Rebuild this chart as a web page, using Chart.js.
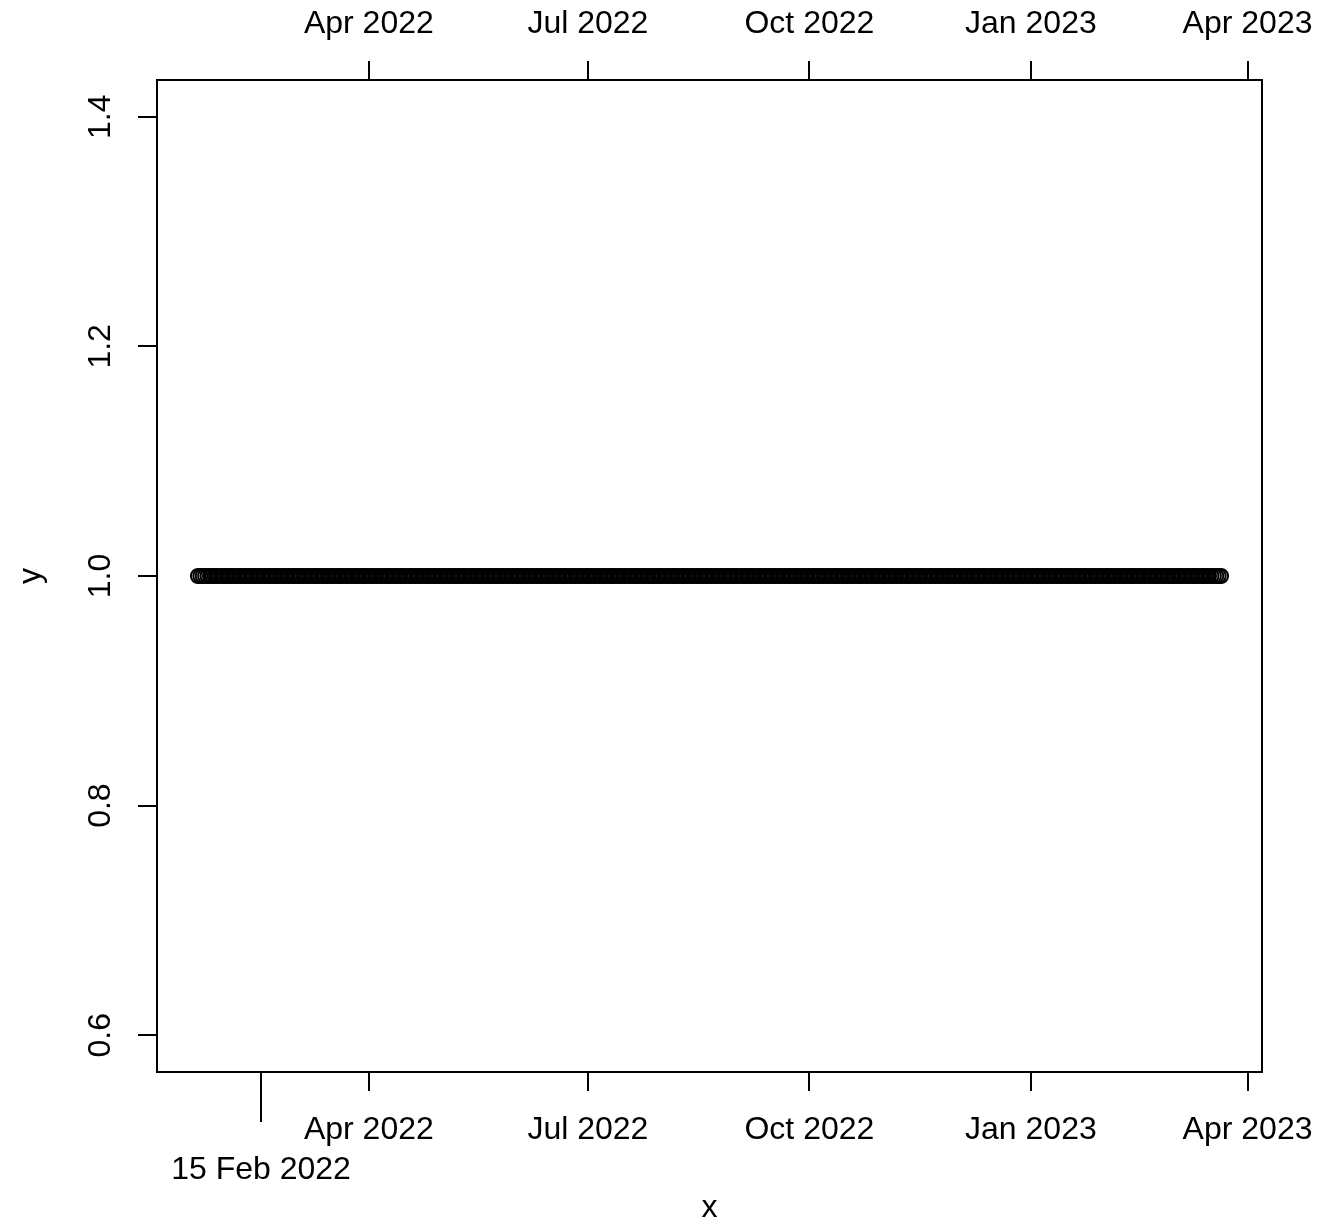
<!DOCTYPE html>
<html>
<head>
<meta charset="utf-8">
<title>y vs x</title>
<script src="https://cdn.jsdelivr.net/npm/chart.js@4.4.1/dist/chart.umd.min.js"></script>
<style>
  html, body { margin: 0; padding: 0; background: #ffffff; }
  #wrap { width: 1322px; height: 1225px; }
</style>
</head>
<body>
<div id="wrap"><canvas id="plot" width="1322" height="1225"></canvas></div>
<script>
// data: one point per day, all at y = 1
const startDate = "2022-01-20";
const endDate = "2023-03-21";
const yValue = 1;

const tickDates = ["2022-04-01", "2022-07-01", "2022-10-01", "2023-01-01", "2023-04-01"];
const tickLabels = ["Apr 2022", "Jul 2022", "Oct 2022", "Jan 2023", "Apr 2023"];
const extraTickDate = "2022-02-15";
const extraTickLabel = "15 Feb 2022";
const yTicks = [0.6, 0.8, 1.0, 1.2, 1.4];

const FONT = "'Liberation Sans', Arial, Helvetica, sans-serif";
const FONT_SIZE = 32;

// days since epoch, so a plain linear scale can be used
const day = function(s) {
    return Date.UTC(+s.slice(0, 4), +s.slice(5, 7) - 1, +s.slice(8, 10)) / 86400000;
};

const points = [];
for (let d = day(startDate); d <= day(endDate); d++) {
    points.push({x: d, y: yValue});
}

// R style 4% extension of the ranges
const xSpan = day(endDate) - day(startDate);
const xMin = day(startDate) - 0.04 * xSpan;
const xMax = day(endDate) + 0.04 * xSpan;
const yMin = 0.6 - 0.04 * 0.8;
const yMax = 1.4 + 0.04 * 0.8;

const xAxis = function(pos, h, pad) {
    return {
        type: "linear",
        position: pos,
        min: xMin,
        max: xMax,
        afterBuildTicks: function(scale) {
            scale.ticks = tickDates.map(d => ({value: day(d)}));
        },
        afterFit: function(scale) {
            scale.height = h;
            // labels may hang over the right edge, like R lets them
            scale.paddingLeft = 0;
            scale.paddingRight = 0;
        },
        grid: {drawOnChartArea: false, drawTicks: true, tickLength: 19, color: "#000", lineWidth: 2},
        border: {display: true, color: "#000", width: 2},
        ticks: {
            autoSkip: false, minRotation: 0, maxRotation: 0, padding: pad, color: "#000",
            font: {family: FONT, size: FONT_SIZE},
            callback: function(v, i) { return tickLabels[i]; }
        }
    };
};

const extras = {
    id: "extras",
    afterDraw: function(chart) {
        const ctx = chart.ctx;
        const a = chart.chartArea;
        const sx = chart.scales.x;
        const sy = chart.scales.y;
        ctx.save();
        ctx.strokeStyle = "#000";
        ctx.fillStyle = "#000";
        ctx.lineWidth = 2;
        ctx.strokeRect(a.left, a.top, a.right - a.left, a.bottom - a.top);

        // the long extra tick on the bottom axis
        const px = Math.round(sx.getPixelForValue(day(extraTickDate)));
        ctx.beginPath();
        ctx.moveTo(px, a.bottom);
        ctx.lineTo(px, a.bottom + 50);
        ctx.stroke();
        ctx.font = FONT_SIZE + "px " + FONT;
        ctx.textAlign = "center";
        ctx.textBaseline = "alphabetic";
        ctx.fillText(extraTickLabel, px, 1179);

        // y tick labels, turned like R does
        yTicks.forEach(function(v) {
            ctx.save();
            ctx.translate(110, sy.getPixelForValue(v));
            ctx.rotate(-Math.PI / 2);
            ctx.fillText(v.toFixed(1), 0, 0);
            ctx.restore();
        });

        // axis titles
        ctx.fillText("x", (a.left + a.right) / 2, 1217);
        ctx.save();
        ctx.translate(40, (a.top + a.bottom) / 2);
        ctx.rotate(-Math.PI / 2);
        ctx.fillText("y", 0, 0);
        ctx.restore();
        ctx.restore();
    }
};

new Chart(document.getElementById("plot"), {
    type: "scatter",
    data: {
        datasets: [{
            data: points,
            pointStyle: "circle",
            pointRadius: 7,
            borderWidth: 2,
            borderColor: "#000",
            backgroundColor: "rgba(0,0,0,0)",
            clip: false
        }]
    },
    options: {
        responsive: false,
        devicePixelRatio: 1,
        animation: false,
        events: [],
        layout: {padding: {left: 0, right: 60, top: 0, bottom: 0}},
        plugins: {legend: {display: false}, tooltip: {enabled: false}},
        scales: {
            x: xAxis("bottom", 153, 20),
            x2: xAxis("top", 80, 18),
            y: {
                type: "linear",
                position: "left",
                min: yMin,
                max: yMax,
                afterBuildTicks: function(scale) {
                    scale.ticks = yTicks.map(v => ({value: v}));
                },
                afterFit: function(scale) { scale.width = 157; },
                grid: {drawOnChartArea: false, drawTicks: true, tickLength: 19, color: "#000", lineWidth: 2},
                border: {display: true, color: "#000", width: 2},
                ticks: {display: false}
            }
        }
    },
    plugins: [extras]
});
</script>
</body>
</html>
